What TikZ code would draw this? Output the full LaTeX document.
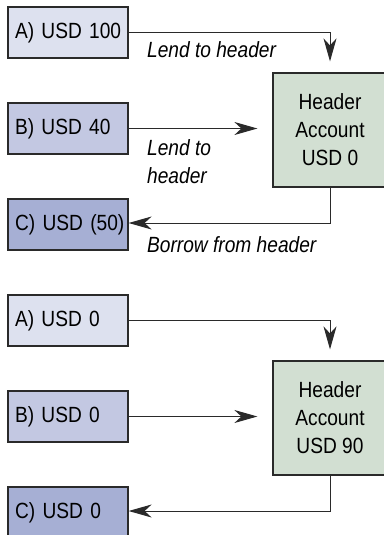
\documentclass[tikz,border=0pt]{standalone}
\usepackage{fontspec}
\setmainfont[FakeStretch=0.87]{Liberation Sans}
\usepackage{tikz}
\usetikzlibrary{calc,arrows.meta}

\definecolor{acctA}{HTML}{DDE1EF}
\definecolor{acctB}{HTML}{C3C8E2}
\definecolor{acctC}{HTML}{A6AFD4}
\definecolor{hdrFill}{HTML}{D2DFD2}
\definecolor{edge}{HTML}{2A2A2A}

\tikzset{
  acct/.style={draw=edge, line width=1.2pt, minimum height=51pt,
    text width=106pt, inner xsep=7pt, align=left,
    font=\fontsize{22}{28}\selectfont},
  hdr/.style={draw=edge, line width=1.2pt, fill=hdrFill,
    minimum width=114pt, minimum height=114pt, align=center,
    font=\fontsize{22}{28}\selectfont},
  flow/.style={draw=edge, line width=1pt,
    -{Stealth[length=23pt,width=13pt,inset=7pt]}},
  note/.style={inner sep=0pt, align=left, anchor=base west,
    font=\fontsize{22}{28}\selectfont\itshape}
}

\begin{document}
\begin{tikzpicture}[x=1pt,y=-1pt]
  \useasboundingbox (0,0) rectangle (383,535);

  %% Both panels: the three accounts and the header account
  \foreach \p/\dy/\a/\b/\c/\h in {1/0/100/40/{(50)}/0, 2/288/0/0/0/90}
  {
    \node[acct, fill=acctA] (A\p) at (68,32.5+\dy)  {\mbox{A) USD \a}};
    \node[acct, fill=acctB] (B\p) at (68,128.5+\dy) {\mbox{B) USD \b}};
    \node[acct, fill=acctC] (C\p) at (68,224.5+\dy) {\mbox{C) USD \c}};
    \node[hdr] (H\p) at (330,130+\dy) {Header\\Account\\USD \h};

    \draw[flow, shorten >=11pt] (A\p.east) -| (H\p.north);
    \draw[flow, shorten >=15pt] (B\p.east) -- (B\p.east -| H\p.west);
    \draw[flow] (H\p.south) |- ($(C\p.east)+(0,-1.5)$);
  }

  %% Labels on the upper panel (base is the last line)
  \node[note] (lendA) at (147,57)  {Lend to header};
  \node[note] (lendB) at (147,183) {Lend to\\header};
  \node[note] (borC)  at (147,252) {Borrow from header};
\end{tikzpicture}
\end{document}
